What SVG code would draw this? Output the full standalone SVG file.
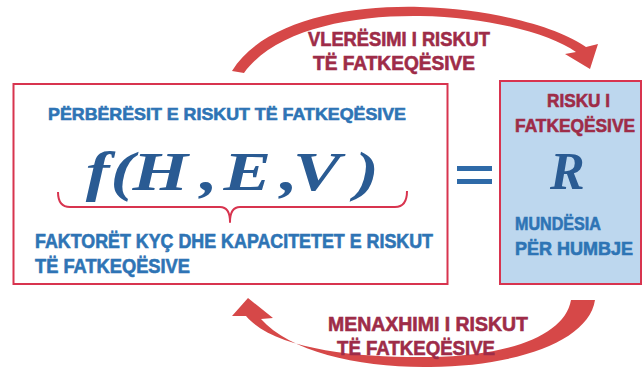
<svg xmlns="http://www.w3.org/2000/svg" width="644" height="371" viewBox="0 0 644 371">
<style>
.box{fill:#ffffff;stroke:#d8344f;stroke-width:2}
.rbox{fill:#bdd7ee;stroke:#d8344f;stroke-width:2}
.blue{font-family:"Liberation Sans",Arial,sans-serif;font-weight:bold;fill:#2e74b5;stroke:#2e74b5;stroke-width:0.6}
.mar{font-family:"Liberation Sans",Arial,sans-serif;font-weight:bold;fill:#9e2c48;stroke:#9e2c48;stroke-width:0.6}
.math{font-family:"Liberation Serif","Times New Roman",serif;font-weight:bold;font-style:italic;fill:#2a5b93}
.arrow{fill:#d64848}
.brace{fill:none;stroke:#d8344f;stroke-width:2;stroke-linejoin:round}
.eq{fill:#2e6aa8}
</style>
<rect width="644" height="371" fill="#ffffff"/>
<g id="connectors">
  <g id="arrow-top">
    <path class="arrow" d="M 232 71 C 262 22, 345 5, 420 7 C 495 9, 560 28, 586 47 L 598 44 L 590 69 L 565 54 L 576 52 C 550 34, 490 17, 420 16 C 350 15, 275 30, 244 73 Z"/>
    <text class="mar" font-size="19.5" x="308" y="46" textLength="182" lengthAdjust="spacingAndGlyphs">VLERËSIMI I RISKUT</text>
    <text class="mar" font-size="19.5" x="313" y="70" textLength="162" lengthAdjust="spacingAndGlyphs">TË FATKEQËSIVE</text>
  </g>
  <g id="arrow-bottom">
    <path class="arrow" d="M 595 300 C 589 340, 520 366, 430 367 C 360 368, 290 352, 261 319 L 273 318 L 248 298 L 232 316 L 246 316 C 275 350, 360 358, 430 357 C 510 356, 565 335, 571 300 Z"/>
    <text class="mar" font-size="19.5" x="328" y="331" textLength="200" lengthAdjust="spacingAndGlyphs">MENAXHIMI I RISKUT</text>
    <text class="mar" font-size="19.5" x="337" y="355" textLength="158" lengthAdjust="spacingAndGlyphs">TË FATKEQËSIVE</text>
  </g>
</g>
<g id="node-components">
  <rect class="box" x="13.5" y="84" width="434" height="200"/>
  <text class="blue" font-size="17" x="48" y="120" textLength="358" lengthAdjust="spacingAndGlyphs">PËRBËRËSIT E RISKUT TË FATKEQËSIVE</text>
  <text class="math" font-size="55" y="190" transform="scale(1.3,1)" x="66 80 85 102 142 153.8 162 172 208 215.4 222 225.4 265 273.1">f (H , E , V )</text>
  <path class="brace" d="M 58 192 Q 58 207 70 207 L 220 207 Q 230 207 230 222 Q 230 207 240 207 L 395 207 Q 407 207 407 191"/>
  <text class="blue" font-size="19.5" x="35" y="248" textLength="398" lengthAdjust="spacingAndGlyphs">FAKTORËT KYÇ DHE KAPACITETET E RISKUT</text>
  <text class="blue" font-size="19.5" x="35" y="273" textLength="155" lengthAdjust="spacingAndGlyphs">TË FATKEQËSIVE</text>
</g>
<g id="node-equals">
  <rect class="eq" x="457" y="166" width="35" height="5"/>
  <rect class="eq" x="457" y="179" width="35" height="5"/>
</g>
<g id="node-risk">
  <rect class="rbox" x="500" y="81" width="141" height="203"/>
  <text class="mar" font-size="18.5" x="547" y="107" textLength="63" lengthAdjust="spacingAndGlyphs">RISKU I</text>
  <text class="mar" font-size="18.5" x="515" y="132" textLength="120" lengthAdjust="spacingAndGlyphs">FATKEQËSIVE</text>
  <text class="math" font-size="52" x="550" y="189">R</text>
  <text class="blue" font-size="18.5" x="515" y="230" textLength="86" lengthAdjust="spacingAndGlyphs">MUNDËSIA</text>
  <text class="blue" font-size="18.5" x="515" y="255" textLength="118" lengthAdjust="spacingAndGlyphs">PËR HUMBJE</text>
</g>
</svg>
